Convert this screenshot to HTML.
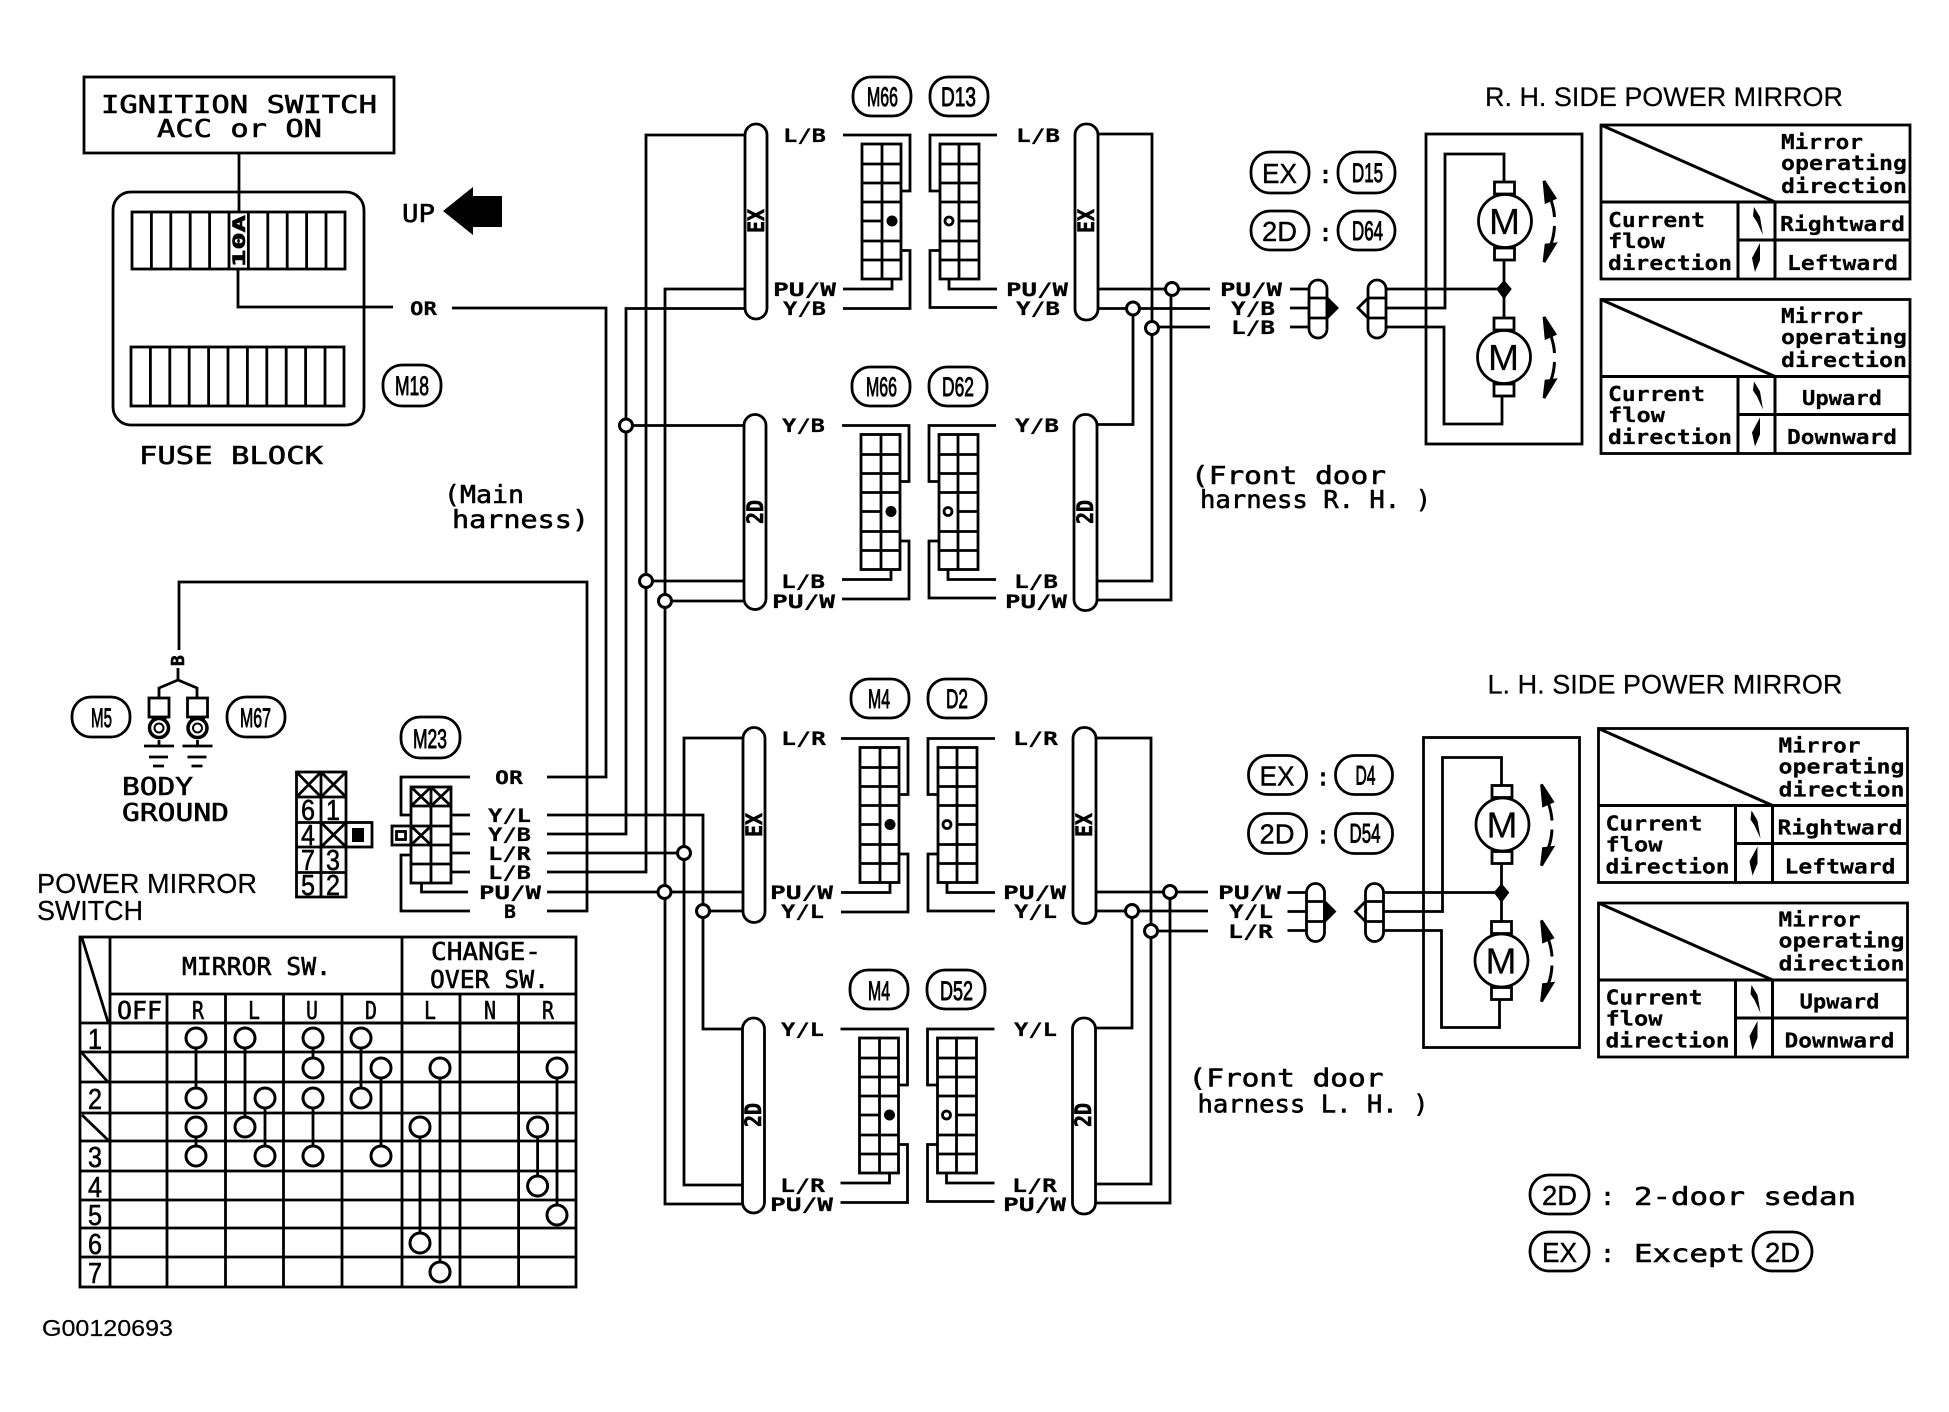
<!DOCTYPE html>
<html><head><meta charset="utf-8"><title>Power mirror wiring diagram</title>
<style>
html,body{margin:0;padding:0;background:#fff}
svg{display:block}
text{font-family:"DejaVu Sans Mono","Liberation Mono",monospace;fill:#000;stroke:#000;stroke-width:.6}
.s{font-family:"Liberation Sans",sans-serif;stroke-width:.2}
.w{font-size:19px;font-weight:bold;stroke-width:.2}
.o{font-size:27px;font-family:"Liberation Sans",sans-serif;stroke-width:.9}
.e{font-size:28px;font-family:"Liberation Sans",sans-serif;stroke-width:.4}
.d{font-size:29px;font-family:"Liberation Sans",sans-serif;stroke-width:.6}
.b{font-size:25px}
.tb{font-size:20px;font-weight:bold;stroke-width:.2}
.l{fill:none;stroke:#000;stroke-width:2.8}
.c{fill:#fff;stroke:#000;stroke-width:3}
</style></head><body>
<svg width="1949" height="1412" viewBox="0 0 1949 1412" xmlns="http://www.w3.org/2000/svg">
<defs>
<g id="conn" class="l">
<path d="M843 135H910V191H900M900 250.500H910V308.500H843M843 289H892V279"/>
<rect x="862" y="144" width="39" height="135"/>
<path d="M882 144V279M862 164H901M862 183H901M862 202H901M862 221H882M862 241H901M862 260H901"/>
<circle cx="892" cy="221" r="5.500" fill="#000" stroke="none"/>
<path d="M997 135H930V191H940M940 250.500H930V307.500H997M949 279V289H997"/>
<rect x="940" y="144" width="39" height="135"/>
<path d="M959 144V279M940 164H979M940 183H979M940 202H979M959 221H979M940 241H979M940 260H979"/>
<circle cx="949" cy="221" r="4"/>
<rect x="745" y="124" width="22" height="195" rx="11"/>
<rect x="1075" y="124" width="23" height="196" rx="11"/>
</g>
<g id="ttab" class="l">
<rect x="1601" y="125" width="309" height="154"/>
<path d="M1601 125L1775 202V279M1601 202H1910M1738 202V279M1738 240H1910" stroke-width="3"/>
<path d="M1754 207L1760 217 1763 235 1757 222 1753 216Z" fill="#000" stroke="none"/>
<path d="M1760 243L1752 258 1755 272 1760 260Z" fill="#000" stroke="none"/>
</g>
<g id="marrow">
<path d="M1544 181L1555 198 1546 202Z" fill="#000"/>
<path d="M1551 200Q1554 209 1554.500 217M1554.500 226Q1554 236 1551 244" fill="none" stroke="#000" stroke-width="3"/>
<path d="M1546 245L1555 244 1544 262Z" fill="#000"/>
</g>
<g id="mbox" class="l">
<rect x="1426" y="134" width="156" height="310"/>
<path d="M1504 183V154H1445V308H1386M1386 289H1504M1386 327H1444V424H1502V396M1504 260V318"/>
<circle cx="1505" cy="221" r="26.500"/>
<circle cx="1504" cy="357" r="26.500"/>
<rect x="1494.500" y="182" width="20" height="12"/><rect x="1494.500" y="248" width="20" height="12"/>
<rect x="1494" y="318" width="20" height="12"/><rect x="1494" y="384" width="20" height="12"/>
<path d="M1504 282L1510 289 1504 297 1498 289Z" fill="#000"/>
<path d="M1290 289H1308M1290 308H1308M1290 327H1308"/>
<rect x="1309" y="280" width="18" height="58" rx="9"/><path d="M1309 298H1327M1309 318H1327"/>
<path d="M1327 298L1337 308 1327 318Z" fill="#000"/>
<rect x="1368" y="280" width="18" height="58" rx="9"/><path d="M1368 298H1386M1368 318H1386M1368 298L1358 308 1368 318"/>
<use href="#marrow"/><use href="#marrow" transform="translate(0 136)"/>
</g>
<g id="gnd" class="l">
<rect x="149" y="698" width="20" height="19"/>
<path d="M153 717V722M165 717V722M159 740V746M144 746H174M149 757H168M153 766H164"/>
<circle cx="159" cy="728" r="9.500" stroke-width="3.500"/><circle cx="159" cy="728" r="4.500" stroke-width="2"/>
</g>
</defs>
<rect width="1949" height="1412" fill="#fff"/>

<!-- ignition + fuse -->
<g class="l">
<rect x="84" y="77" width="310" height="76"/>
<path d="M239 153V212"/>
<rect x="113" y="192" width="251" height="233" rx="18"/>
<rect x="132" y="212" width="213" height="57"/>
<path d="M151.400 212V269M170.800 212V269M190.200 212V269M209.600 212V269M229 212V269M248.400 212V269M267.800 212V269M287.200 212V269M306.600 212V269M326 212V269"/>
<rect x="131" y="347" width="213" height="59"/>
<path d="M150.400 347V406M169.800 347V406M189.200 347V406M208.600 347V406M228 347V406M247.400 347V406M266.800 347V406M286.200 347V406M305.600 347V406M325 347V406"/>
<path d="M238 269V307H393M452 308H606V777H547"/>
<rect x="383" y="365" width="58" height="41" rx="19"/>
</g>
<text class="b" x="101" y="113" textLength="276" lengthAdjust="spacingAndGlyphs">IGNITION SWITCH</text>
<text class="b" x="157" y="137" textLength="165" lengthAdjust="spacingAndGlyphs">ACC or ON</text>
<text x="245" y="267" transform="rotate(-90 245 267)" font-size="17" font-weight="bold" textLength="52" lengthAdjust="spacingAndGlyphs">10A</text>
<text class="b" x="402" y="222" textLength="33" lengthAdjust="spacingAndGlyphs">UP</text>
<path d="M443 211L473 187V196H502V227H473V235Z" fill="#000"/>
<text class="w" x="410" y="315" textLength="27" lengthAdjust="spacingAndGlyphs">OR</text>
<text class="o" x="395" y="395" textLength="34" lengthAdjust="spacingAndGlyphs">M18</text>
<text class="b" x="139" y="464" textLength="184" lengthAdjust="spacingAndGlyphs">FUSE BLOCK</text>
<text class="b" x="444" y="503" textLength="80" lengthAdjust="spacingAndGlyphs">(Main</text>
<text class="b" x="452" y="528" textLength="137" lengthAdjust="spacingAndGlyphs">harness)</text>

<!-- buses -->
<g class="l">
<path d="M745 308.500H626V834H547M626 425.500H744"/>
<path d="M745 135H646V872H547M646 581H744"/>
<path d="M745 289H665V1204H743M665 601H744M547 892H743"/>
<path d="M743 738H684V1185H743M547 853H684"/>
<path d="M547 815H703V1029H743M703 911H743"/>
<path d="M547 911H587V582H179V650M178 668V680M159 698V688L178 680 197 688V698"/>
<path d="M1098 134H1152V581H1097M1098 289H1210M1098 308.500H1210M1152 327H1210"/>
<path d="M1097 424.500H1133V308M1097 600H1171V289"/>
<path d="M1096 738H1151V1184H1095M1096 892H1208M1096 911H1208M1151 931H1208"/>
<path d="M1095 1028H1132V911M1095 1203H1170V892"/>
</g>
<g class="c">
<circle cx="626" cy="425.500" r="6.500"/><circle cx="646" cy="581" r="6.500"/><circle cx="665" cy="601" r="6.500"/>
<circle cx="664.500" cy="892" r="6.500"/><circle cx="684" cy="853" r="6.500"/><circle cx="703" cy="911" r="6.500"/>
<circle cx="1133" cy="308.500" r="6.500"/><circle cx="1172" cy="289" r="6.500"/><circle cx="1152" cy="328" r="6.500"/>
<circle cx="1132" cy="911" r="6.500"/><circle cx="1170" cy="892" r="6.500"/><circle cx="1151" cy="931" r="6.500"/>
</g>

<!-- connector rows -->
<use href="#conn"/>
<use href="#conn" transform="translate(-1 290.500)"/>
<use href="#conn" transform="translate(-2 603.500)"/>
<use href="#conn" transform="translate(-2.500 894)"/>
<g class="l">
<rect x="853" y="77" width="58" height="39" rx="18"/><rect x="930" y="77" width="58" height="39" rx="18"/>
<rect x="852" y="367" width="58" height="39" rx="18"/><rect x="929" y="367" width="58" height="39" rx="18"/>
<rect x="851" y="679" width="58" height="39" rx="18"/><rect x="928" y="679" width="58" height="39" rx="18"/>
<rect x="850" y="970" width="58" height="39" rx="18"/><rect x="927" y="970" width="58" height="39" rx="18"/>
</g>
<text class="o" x="867" y="106" textLength="31" lengthAdjust="spacingAndGlyphs">M66</text>
<text class="o" x="941" y="106" textLength="35" lengthAdjust="spacingAndGlyphs">D13</text>
<text class="o" x="866" y="396" textLength="31" lengthAdjust="spacingAndGlyphs">M66</text>
<text class="o" x="942" y="396" textLength="32" lengthAdjust="spacingAndGlyphs">D62</text>
<text class="o" x="868" y="708" textLength="22" lengthAdjust="spacingAndGlyphs">M4</text>
<text class="o" x="946" y="708" textLength="22" lengthAdjust="spacingAndGlyphs">D2</text>
<text class="o" x="868" y="1000" textLength="22" lengthAdjust="spacingAndGlyphs">M4</text>
<text class="o" x="940" y="1000" textLength="33" lengthAdjust="spacingAndGlyphs">D52</text>

<g>
<text font-size="22" font-weight="bold" x="764" y="233" transform="rotate(-90 764 233)" textLength="24" lengthAdjust="spacingAndGlyphs">EX</text>
<text font-size="22" font-weight="bold" x="1094" y="233" transform="rotate(-90 1094 233)" textLength="24" lengthAdjust="spacingAndGlyphs">EX</text>
<text font-size="22" font-weight="bold" x="763" y="524" transform="rotate(-90 763 524)" textLength="24" lengthAdjust="spacingAndGlyphs">2D</text>
<text font-size="22" font-weight="bold" x="1093" y="524" transform="rotate(-90 1093 524)" textLength="24" lengthAdjust="spacingAndGlyphs">2D</text>
<text font-size="22" font-weight="bold" x="762" y="837" transform="rotate(-90 762 837)" textLength="24" lengthAdjust="spacingAndGlyphs">EX</text>
<text font-size="22" font-weight="bold" x="1092" y="837" transform="rotate(-90 1092 837)" textLength="24" lengthAdjust="spacingAndGlyphs">EX</text>
<text font-size="22" font-weight="bold" x="761" y="1127" transform="rotate(-90 761 1127)" textLength="24" lengthAdjust="spacingAndGlyphs">2D</text>
<text font-size="22" font-weight="bold" x="1091" y="1127" transform="rotate(-90 1091 1127)" textLength="24" lengthAdjust="spacingAndGlyphs">2D</text>
</g>

<!-- wire labels -->
<g>
<text class="w" x="783" y="142" textLength="43" lengthAdjust="spacingAndGlyphs">L/B</text>
<text class="w" x="773" y="296" textLength="63" lengthAdjust="spacingAndGlyphs">PU/W</text>
<text class="w" x="783" y="315" textLength="43" lengthAdjust="spacingAndGlyphs">Y/B</text>
<text class="w" x="1016" y="142" textLength="44" lengthAdjust="spacingAndGlyphs">L/B</text>
<text class="w" x="1006" y="296" textLength="62" lengthAdjust="spacingAndGlyphs">PU/W</text>
<text class="w" x="1016" y="315" textLength="44" lengthAdjust="spacingAndGlyphs">Y/B</text>
<text class="w" x="782" y="432" textLength="43" lengthAdjust="spacingAndGlyphs">Y/B</text>
<text class="w" x="781" y="588" textLength="44" lengthAdjust="spacingAndGlyphs">L/B</text>
<text class="w" x="772" y="608" textLength="63" lengthAdjust="spacingAndGlyphs">PU/W</text>
<text class="w" x="1015" y="432" textLength="44" lengthAdjust="spacingAndGlyphs">Y/B</text>
<text class="w" x="1014" y="588" textLength="44" lengthAdjust="spacingAndGlyphs">L/B</text>
<text class="w" x="1005" y="608" textLength="62" lengthAdjust="spacingAndGlyphs">PU/W</text>
<text class="w" x="781" y="745" textLength="45" lengthAdjust="spacingAndGlyphs">L/R</text>
<text class="w" x="770" y="899" textLength="63" lengthAdjust="spacingAndGlyphs">PU/W</text>
<text class="w" x="781" y="918" textLength="43" lengthAdjust="spacingAndGlyphs">Y/L</text>
<text class="w" x="1013" y="745" textLength="45" lengthAdjust="spacingAndGlyphs">L/R</text>
<text class="w" x="1003" y="899" textLength="63" lengthAdjust="spacingAndGlyphs">PU/W</text>
<text class="w" x="1014" y="918" textLength="43" lengthAdjust="spacingAndGlyphs">Y/L</text>
<text class="w" x="781" y="1036" textLength="43" lengthAdjust="spacingAndGlyphs">Y/L</text>
<text class="w" x="780" y="1192" textLength="45" lengthAdjust="spacingAndGlyphs">L/R</text>
<text class="w" x="770" y="1211" textLength="63" lengthAdjust="spacingAndGlyphs">PU/W</text>
<text class="w" x="1014" y="1036" textLength="43" lengthAdjust="spacingAndGlyphs">Y/L</text>
<text class="w" x="1012" y="1192" textLength="45" lengthAdjust="spacingAndGlyphs">L/R</text>
<text class="w" x="1003" y="1211" textLength="63" lengthAdjust="spacingAndGlyphs">PU/W</text>
<text class="w" x="1220" y="296" textLength="62" lengthAdjust="spacingAndGlyphs">PU/W</text>
<text class="w" x="1231" y="315" textLength="44" lengthAdjust="spacingAndGlyphs">Y/B</text>
<text class="w" x="1231" y="334" textLength="44" lengthAdjust="spacingAndGlyphs">L/B</text>
<text class="w" x="1218" y="899" textLength="63" lengthAdjust="spacingAndGlyphs">PU/W</text>
<text class="w" x="1229" y="918" textLength="44" lengthAdjust="spacingAndGlyphs">Y/L</text>
<text class="w" x="1228" y="938" textLength="45" lengthAdjust="spacingAndGlyphs">L/R</text>
<text class="w" x="495" y="784" textLength="28" lengthAdjust="spacingAndGlyphs">OR</text>
<text class="w" x="488" y="822" textLength="43" lengthAdjust="spacingAndGlyphs">Y/L</text>
<text class="w" x="488" y="841" textLength="43" lengthAdjust="spacingAndGlyphs">Y/B</text>
<text class="w" x="488" y="860" textLength="43" lengthAdjust="spacingAndGlyphs">L/R</text>
<text class="w" x="488" y="879" textLength="43" lengthAdjust="spacingAndGlyphs">L/B</text>
<text class="w" x="479" y="899" textLength="62" lengthAdjust="spacingAndGlyphs">PU/W</text>
<text class="w" x="504" y="918" textLength="12" lengthAdjust="spacingAndGlyphs">B</text>
<text x="184" y="666" transform="rotate(-90 184 666)" font-size="18" font-weight="bold">B</text>
</g>

<!-- grounds -->
<use href="#gnd"/><use href="#gnd" transform="translate(38.500 0)"/>
<g class="l">
<rect x="72" y="697" width="58" height="40" rx="19"/>
<rect x="227" y="697" width="58" height="40" rx="19"/>
<rect x="401" y="717" width="59" height="41" rx="19"/>
</g>
<text class="o" x="91" y="727" textLength="21" lengthAdjust="spacingAndGlyphs">M5</text>
<text class="o" x="240" y="727" textLength="31" lengthAdjust="spacingAndGlyphs">M67</text>
<text class="o" x="413" y="748" textLength="34" lengthAdjust="spacingAndGlyphs">M23</text>
<text class="b" x="122" y="795" textLength="71" lengthAdjust="spacingAndGlyphs">BODY</text>
<text class="b" x="122" y="821" textLength="107" lengthAdjust="spacingAndGlyphs">GROUND</text>
<text class="s" x="37" y="893" font-size="28" textLength="220" lengthAdjust="spacingAndGlyphs">POWER MIRROR</text>
<text class="s" x="37" y="920" font-size="28" textLength="106" lengthAdjust="spacingAndGlyphs">SWITCH</text>

<!-- switch pin grids -->
<g class="l" stroke-width="3">
<rect x="296.500" y="772" width="49.500" height="125"/>
<path d="M321 772V897M296.500 797H346M296.500 822.500H346M296.500 847H346M296.500 872.500H346"/>
<path d="M296.500 772L321 797M321 772L296.500 797M321 772L346 797M346 772L321 797M321 822.500L346 847M346 822.500L321 847"/>
<rect x="346" y="822.500" width="26" height="24.500"/>
<rect x="411" y="787" width="40" height="96"/>
<path d="M431 787V883M411 806H451M411 826H451M411 845H451M411 864H451"/>
<path d="M411 787L431 806M431 787L411 806M431 787L451 806M451 787L431 806M411 826L431 845M431 826L411 845"/>
<rect x="392" y="826" width="19" height="19"/>
<rect x="396.500" y="831.500" width="9" height="8"/>
<path d="M470 777H401V815H411M451 815H470M451 834H470M451 853H470M451 872H470M411 855H401V911H470M421.500 883V892H468"/>
</g>
<rect x="352" y="828" width="12" height="14" fill="#000"/>
<text class="d" x="301" y="820" font-size="27" textLength="14" lengthAdjust="spacingAndGlyphs">6</text>
<text class="d" x="326" y="820" font-size="27" textLength="14" lengthAdjust="spacingAndGlyphs">1</text>
<text class="d" x="301" y="845" font-size="27" textLength="14" lengthAdjust="spacingAndGlyphs">4</text>
<text class="d" x="301" y="870" font-size="27" textLength="14" lengthAdjust="spacingAndGlyphs">7</text>
<text class="d" x="326" y="870" font-size="27" textLength="14" lengthAdjust="spacingAndGlyphs">3</text>
<text class="d" x="301" y="895" font-size="27" textLength="14" lengthAdjust="spacingAndGlyphs">5</text>
<text class="d" x="326" y="895" font-size="27" textLength="14" lengthAdjust="spacingAndGlyphs">2</text>

<!-- switch table -->
<g class="l" stroke-width="3">
<rect x="80" y="937" width="496" height="350"/>
<path d="M110 937V1287M110 994H576M110 1023H576M402 937V1287"/>
<path d="M80 1023H576M80 1052H576M80 1082H576M80 1113H576M80 1141H576M80 1171H576M80 1200H576M80 1228H576M80 1257H576"/>
<path d="M167 994V1287M225.500 994V1287M283.500 994V1287M342 994V1287M460 994V1287M518.600 994V1287"/>
<path d="M82 938L108 1022M82 1053L108 1082M82 1115L108 1140"/>
<path d="M196 1038V1098M196 1127V1156M245 1038V1127M265 1098V1156M313 1038V1068M313 1098V1156M361 1038V1098M381 1068V1156M420 1127V1243M440 1068V1272M537.600 1127V1186M557 1068V1215"/>
</g>
<g class="c">
<circle cx="196" cy="1038" r="10"/><circle cx="245" cy="1038" r="10"/><circle cx="313" cy="1038" r="10"/><circle cx="361" cy="1038" r="10"/>
<circle cx="313" cy="1068" r="10"/><circle cx="381" cy="1068" r="10"/><circle cx="440" cy="1068" r="10"/><circle cx="557" cy="1068" r="10"/>
<circle cx="196" cy="1098" r="10"/><circle cx="265" cy="1098" r="10"/><circle cx="313" cy="1098" r="10"/><circle cx="361" cy="1098" r="10"/>
<circle cx="196" cy="1127" r="10"/><circle cx="245" cy="1127" r="10"/><circle cx="420" cy="1127" r="10"/><circle cx="537.600" cy="1127" r="10"/>
<circle cx="196" cy="1156" r="10"/><circle cx="265" cy="1156" r="10"/><circle cx="313" cy="1156" r="10"/><circle cx="381" cy="1156" r="10"/>
<circle cx="537.600" cy="1186" r="10"/><circle cx="557" cy="1215" r="10"/><circle cx="420" cy="1243" r="10"/><circle cx="440" cy="1272" r="10"/>
</g>
<text class="b" x="182" y="975" textLength="149" lengthAdjust="spacingAndGlyphs">MIRROR SW.</text>
<text class="b" x="431" y="960" font-size="27" textLength="110" lengthAdjust="spacingAndGlyphs">CHANGE-</text>
<text class="b" x="430" y="988" font-size="27" textLength="119" lengthAdjust="spacingAndGlyphs">OVER SW.</text>
<text class="b" x="117" y="1019" textLength="45" lengthAdjust="spacingAndGlyphs">OFF</text>
<text class="b" x="192" y="1019" textLength="12" lengthAdjust="spacingAndGlyphs">R</text><text class="b" x="248" y="1019" textLength="12" lengthAdjust="spacingAndGlyphs">L</text><text class="b" x="306" y="1019" textLength="12" lengthAdjust="spacingAndGlyphs">U</text><text class="b" x="365" y="1019" textLength="12" lengthAdjust="spacingAndGlyphs">D</text>
<text class="b" x="424" y="1019" textLength="12" lengthAdjust="spacingAndGlyphs">L</text><text class="b" x="484" y="1019" textLength="12" lengthAdjust="spacingAndGlyphs">N</text><text class="b" x="542" y="1019" textLength="12" lengthAdjust="spacingAndGlyphs">R</text>
<text class="d" x="88" y="1049" textLength="14" lengthAdjust="spacingAndGlyphs">1</text><text class="d" x="88" y="1109" textLength="14" lengthAdjust="spacingAndGlyphs">2</text><text class="d" x="88" y="1167" textLength="14" lengthAdjust="spacingAndGlyphs">3</text>
<text class="d" x="88" y="1197" textLength="14" lengthAdjust="spacingAndGlyphs">4</text><text class="d" x="88" y="1225" textLength="14" lengthAdjust="spacingAndGlyphs">5</text><text class="d" x="88" y="1254" textLength="14" lengthAdjust="spacingAndGlyphs">6</text><text class="d" x="88" y="1283" textLength="14" lengthAdjust="spacingAndGlyphs">7</text>
<text class="s" x="42" y="1336" font-size="23" textLength="131" lengthAdjust="spacingAndGlyphs">G00120693</text>

<!-- R.H. side -->
<g id="rh">
<use href="#mbox"/><use href="#ttab"/><use href="#ttab" transform="translate(0 174.500)"/>
<g class="l">
<rect x="1251" y="152" width="58" height="41" rx="19"/><rect x="1338" y="152" width="57" height="41" rx="19"/>
<rect x="1251" y="211" width="58" height="39" rx="19"/><rect x="1338" y="211" width="57" height="39" rx="19"/>
</g>
<text class="e" x="1262" y="183" textLength="35" lengthAdjust="spacingAndGlyphs">EX</text>
<text class="o" x="1352" y="182" textLength="31" lengthAdjust="spacingAndGlyphs">D15</text>
<text class="e" x="1262" y="241" textLength="35" lengthAdjust="spacingAndGlyphs">2D</text>
<text class="o" x="1352" y="240" textLength="31" lengthAdjust="spacingAndGlyphs">D64</text>
<text class="b" x="1318" y="183">:</text><text class="b" x="1318" y="241">:</text>
<text class="s" x="1489" y="234" font-size="36" textLength="31" lengthAdjust="spacingAndGlyphs">M</text>
<text class="s" x="1488" y="370" font-size="36" textLength="31" lengthAdjust="spacingAndGlyphs">M</text>
<text class="s" x="1485" y="106" font-size="27" textLength="358" lengthAdjust="spacingAndGlyphs">R. H. SIDE POWER MIRROR</text>
<text class="b" x="1191" y="484" textLength="195" lengthAdjust="spacingAndGlyphs">(Front door</text>
<text class="b" x="1200" y="508" textLength="231" lengthAdjust="spacingAndGlyphs">harness R. H. )</text>
<text class="tb" x="1781" y="149" textLength="82" lengthAdjust="spacingAndGlyphs">Mirror</text>
<text class="tb" x="1781" y="170" textLength="126" lengthAdjust="spacingAndGlyphs">operating</text>
<text class="tb" x="1781" y="193" textLength="126" lengthAdjust="spacingAndGlyphs">direction</text>
<text class="tb" x="1608" y="227" textLength="97" lengthAdjust="spacingAndGlyphs">Current</text>
<text class="tb" x="1608" y="248" textLength="57" lengthAdjust="spacingAndGlyphs">flow</text>
<text class="tb" x="1608" y="270" textLength="124" lengthAdjust="spacingAndGlyphs">direction</text>
<text class="tb" x="1780" y="231" textLength="125" lengthAdjust="spacingAndGlyphs">Rightward</text>
<text class="tb" x="1787" y="270" textLength="111" lengthAdjust="spacingAndGlyphs">Leftward</text>
<text class="tb" x="1781" y="323" textLength="82" lengthAdjust="spacingAndGlyphs">Mirror</text>
<text class="tb" x="1781" y="344" textLength="126" lengthAdjust="spacingAndGlyphs">operating</text>
<text class="tb" x="1781" y="367" textLength="126" lengthAdjust="spacingAndGlyphs">direction</text>
<text class="tb" x="1608" y="401" textLength="97" lengthAdjust="spacingAndGlyphs">Current</text>
<text class="tb" x="1608" y="422" textLength="57" lengthAdjust="spacingAndGlyphs">flow</text>
<text class="tb" x="1608" y="444" textLength="124" lengthAdjust="spacingAndGlyphs">direction</text>
<text class="tb" x="1802" y="405" textLength="80" lengthAdjust="spacingAndGlyphs">Upward</text>
<text class="tb" x="1787" y="444" textLength="110" lengthAdjust="spacingAndGlyphs">Downward</text>
</g>

<!-- L.H. side -->
<g transform="translate(-2.500 603.500)">
<use href="#mbox"/><use href="#ttab"/><use href="#ttab" transform="translate(0 174.500)"/>
<g class="l">
<rect x="1251" y="152" width="58" height="39" rx="19"/><rect x="1338" y="152" width="57" height="39" rx="19"/>
<rect x="1251" y="210" width="58" height="40" rx="19"/><rect x="1338" y="210" width="57" height="40" rx="19"/>
</g>
<text class="e" x="1262" y="182" textLength="35" lengthAdjust="spacingAndGlyphs">EX</text>
<text class="o" x="1358" y="181" textLength="20" lengthAdjust="spacingAndGlyphs">D4</text>
<text class="e" x="1262" y="240" textLength="35" lengthAdjust="spacingAndGlyphs">2D</text>
<text class="o" x="1352" y="239" textLength="31" lengthAdjust="spacingAndGlyphs">D54</text>
<text class="b" x="1318" y="182">:</text><text class="b" x="1318" y="240">:</text>
<text class="s" x="1489" y="234" font-size="36" textLength="31" lengthAdjust="spacingAndGlyphs">M</text>
<text class="s" x="1488" y="370" font-size="36" textLength="31" lengthAdjust="spacingAndGlyphs">M</text>
<text class="s" x="1490" y="90" font-size="27" textLength="355" lengthAdjust="spacingAndGlyphs">L. H. SIDE POWER MIRROR</text>
<text class="b" x="1191" y="483" textLength="195" lengthAdjust="spacingAndGlyphs">(Front door</text>
<text class="b" x="1200" y="509" textLength="231" lengthAdjust="spacingAndGlyphs">harness L. H. )</text>
<text class="tb" x="1781" y="149" textLength="82" lengthAdjust="spacingAndGlyphs">Mirror</text>
<text class="tb" x="1781" y="170" textLength="126" lengthAdjust="spacingAndGlyphs">operating</text>
<text class="tb" x="1781" y="193" textLength="126" lengthAdjust="spacingAndGlyphs">direction</text>
<text class="tb" x="1608" y="227" textLength="97" lengthAdjust="spacingAndGlyphs">Current</text>
<text class="tb" x="1608" y="248" textLength="57" lengthAdjust="spacingAndGlyphs">flow</text>
<text class="tb" x="1608" y="270" textLength="124" lengthAdjust="spacingAndGlyphs">direction</text>
<text class="tb" x="1780" y="231" textLength="125" lengthAdjust="spacingAndGlyphs">Rightward</text>
<text class="tb" x="1787" y="270" textLength="111" lengthAdjust="spacingAndGlyphs">Leftward</text>
<text class="tb" x="1781" y="323" textLength="82" lengthAdjust="spacingAndGlyphs">Mirror</text>
<text class="tb" x="1781" y="344" textLength="126" lengthAdjust="spacingAndGlyphs">operating</text>
<text class="tb" x="1781" y="367" textLength="126" lengthAdjust="spacingAndGlyphs">direction</text>
<text class="tb" x="1608" y="401" textLength="97" lengthAdjust="spacingAndGlyphs">Current</text>
<text class="tb" x="1608" y="422" textLength="57" lengthAdjust="spacingAndGlyphs">flow</text>
<text class="tb" x="1608" y="444" textLength="124" lengthAdjust="spacingAndGlyphs">direction</text>
<text class="tb" x="1802" y="405" textLength="80" lengthAdjust="spacingAndGlyphs">Upward</text>
<text class="tb" x="1787" y="444" textLength="110" lengthAdjust="spacingAndGlyphs">Downward</text>
</g>

<!-- legend -->
<g class="l">
<rect x="1530" y="1175" width="59" height="39" rx="19"/>
<rect x="1530" y="1232" width="59" height="39" rx="19"/>
<rect x="1753" y="1232" width="59" height="39" rx="19"/>
</g>
<text class="e" x="1542" y="1205" textLength="35" lengthAdjust="spacingAndGlyphs">2D</text>
<text class="e" x="1542" y="1262" textLength="35" lengthAdjust="spacingAndGlyphs">EX</text>
<text class="e" x="1765" y="1262" textLength="35" lengthAdjust="spacingAndGlyphs">2D</text>
<text class="b" x="1600" y="1205">:</text><text class="b" x="1600" y="1262">:</text>
<text class="b" x="1634" y="1205" textLength="222" lengthAdjust="spacingAndGlyphs">2-door sedan</text>
<text class="b" x="1634" y="1262" textLength="111" lengthAdjust="spacingAndGlyphs">Except</text>
</svg>
</body></html>
